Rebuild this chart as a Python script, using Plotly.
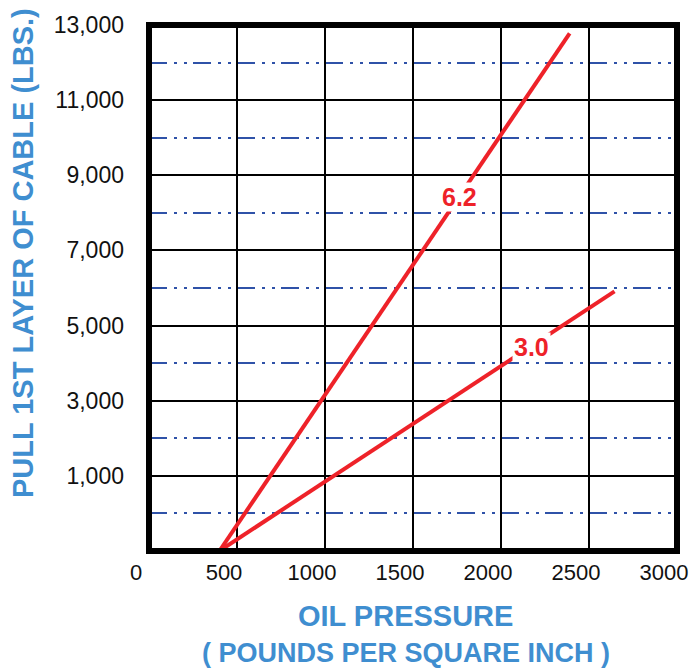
import plotly.graph_objects as go

# ---- data ----
x_ticks = [0, 500, 1000, 1500, 2000, 2500, 3000]
x_tick_labels = ["0", "500", "1000", "1500", "2000", "2500", "3000"]
y_ticks = [1000, 3000, 5000, 7000, 9000, 11000, 13000]
y_tick_labels = ["1,000", "3,000", "5,000", "7,000", "9,000", "11,000", "13,000"]

ratio_62_pressure = [400, 2390]
ratio_62_pull = [-1000, 12780]
ratio_30_pressure = [400, 2645]
ratio_30_pull = [-1000, 5910]

label_62 = {"text": "6.2", "x": 1767, "y": 8420}
label_30 = {"text": "3.0", "x": 2176, "y": 4430}

RED = "#ee2229"
TITLE_BLUE = "#3f8ed0"
GRID_BLUE = "#2f52a8"

fig = go.Figure()
fig.add_trace(go.Scatter(x=ratio_62_pressure, y=ratio_62_pull, mode="lines",
                         line=dict(color=RED, width=4), hoverinfo="skip"))
fig.add_trace(go.Scatter(x=ratio_30_pressure, y=ratio_30_pull, mode="lines",
                         line=dict(color=RED, width=4), hoverinfo="skip"))

for lab in (label_62, label_30):
    fig.add_annotation(x=lab["x"], y=lab["y"], text="<b>%s</b>" % lab["text"],
                       showarrow=False, bgcolor="white", height=26,
                       font=dict(family="Liberation Sans, Arial", size=25, color=RED))

fig.add_annotation(xref="paper", yref="paper", x=-0.240, y=0.567,
                   xanchor="center", yanchor="middle",
                   text="<b>PULL 1ST LAYER OF CABLE (LBS.)</b>", textangle=-90,
                   showarrow=False,
                   font=dict(family="Liberation Sans, Arial", size=29, color=TITLE_BLUE))
fig.add_annotation(xref="paper", yref="paper", x=0.486, y=-0.124,
                   xanchor="center", yanchor="middle",
                   text="<b>OIL PRESSURE</b>", showarrow=False,
                   font=dict(family="Liberation Sans, Arial", size=29, color=TITLE_BLUE))
fig.add_annotation(xref="paper", yref="paper", x=0.487, y=-0.193,
                   xanchor="center", yanchor="middle",
                   text="<b>( POUNDS PER SQUARE INCH )</b>", showarrow=False,
                   font=dict(family="Liberation Sans, Arial", size=27, color=TITLE_BLUE))

# plot frame
fig.add_shape(type="rect", xref="paper", yref="paper", x0=0, x1=1, y0=0, y1=1,
              line=dict(color="black", width=6), layer="above")

fig.update_xaxes(range=[0, 3000], tickvals=x_ticks, ticktext=x_tick_labels,
                 showgrid=True, gridcolor="black", gridwidth=2, zeroline=False,
                 showline=False, ticks="", ticklabelshift=-13, ticklabelstandoff=6,
                 automargin=False,
                 tickfont=dict(family="Liberation Sans, Arial", size=22, color="#111"))
fig.update_yaxes(range=[-1000, 13000], tickvals=y_ticks, ticktext=y_tick_labels,
                 showgrid=True, gridcolor="black", gridwidth=2, zeroline=False,
                 showline=False, ticks="", ticklabelstandoff=24, automargin=False,
                 tickfont=dict(family="Liberation Sans, Arial", size=23, color="#111"),
                 minor=dict(tick0=0, dtick=2000, showgrid=True, gridcolor=GRID_BLUE,
                            gridwidth=2, griddash="18px,7px,3px,7px,3px,6px", ticks=""))

fig.update_layout(width=690, height=669, margin=dict(l=149, r=13, t=25, b=118),
                  plot_bgcolor="white", paper_bgcolor="white", showlegend=False)

# remove the page's default body margin so the figure fills the window exactly
fig.write_html("out.html", config={"displayModeBar": False},
               post_script="document.body.style.margin='0';document.body.style.overflow='hidden';")
